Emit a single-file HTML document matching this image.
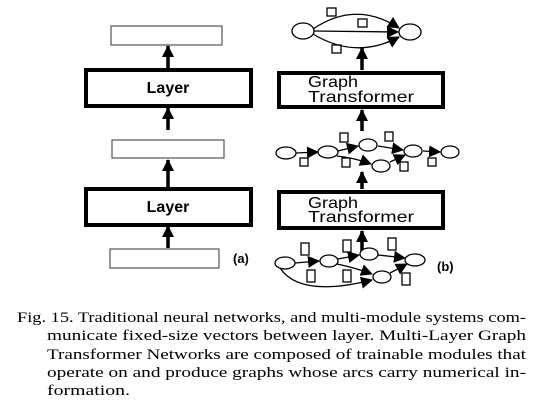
<!DOCTYPE html>
<html><head><meta charset="utf-8"><style>
html,body{margin:0;padding:0;background:#fff;}
svg{display:block;}
.s{font-family:"Liberation Sans",sans-serif;}
.c{font-family:"Liberation Serif",serif;font-size:15px;}
</style></head><body>
<svg width="538" height="414" viewBox="0 0 538 414" xmlns="http://www.w3.org/2000/svg">
<defs>
<marker id="b" markerWidth="12" markerHeight="12" refX="11" refY="6" orient="auto" markerUnits="userSpaceOnUse" viewBox="0 0 12 12"><path d="M0,0 L12,6 L0,12 z" fill="#000"/></marker>
</defs>
<g fill="none" stroke="#000">
<rect x="111" y="26" width="111" height="19" stroke="#555" stroke-width="1.2"/>
<rect x="86" y="70" width="165" height="36" stroke-width="4"/>
<rect x="112" y="140" width="112" height="18" stroke="#555" stroke-width="1.2"/>
<rect x="86" y="189" width="165" height="36" stroke-width="4"/>
<rect x="110" y="249" width="109" height="19" stroke="#555" stroke-width="1.2"/>
<g stroke-width="3.5" marker-end="url(#b)">
<line x1="168" y1="68" x2="168" y2="46"/>
<line x1="168" y1="130" x2="168" y2="108"/>
<line x1="168" y1="187" x2="168" y2="160"/>
<line x1="168" y1="248" x2="168" y2="226"/>
<line x1="362" y1="70" x2="362" y2="48"/>
<line x1="362" y1="131" x2="362" y2="110"/>
<line x1="362" y1="189" x2="362" y2="172"/>
<line x1="362" y1="252" x2="362" y2="231"/>
</g>
<rect x="279" y="73" width="164" height="34" stroke-width="4"/>
<rect x="279" y="192" width="164" height="36" stroke-width="4"/>
<g stroke-width="1.3">
<path d="M313,29 Q356,0 399,28" marker-end="url(#b)"/>
<path d="M314,31 L398,32" marker-end="url(#b)"/>
<path d="M313,34 Q356,60 399,37" marker-end="url(#b)"/>
<ellipse cx="303" cy="31" rx="11" ry="8" fill="#fff"/>
<ellipse cx="410" cy="32" rx="11" ry="8" fill="#fff"/>
<rect x="327" y="8" width="9" height="8"/>
<rect x="358" y="19" width="9" height="8"/>
<rect x="332" y="45" width="9" height="8"/>
</g>
<g stroke-width="1.3">
<path d="M296,153 L318,152" marker-end="url(#b)"/>
<path d="M338,151 L358,146" marker-end="url(#b)"/>
<path d="M337,156 Q355,158 371,164" marker-end="url(#b)"/>
<path d="M378,146 L403,150" marker-end="url(#b)"/>
<path d="M390,162 L405,155" marker-end="url(#b)"/>
<path d="M423,151 L440,152" marker-end="url(#b)"/>
<ellipse cx="286" cy="153" rx="10" ry="6" fill="#fff"/>
<ellipse cx="328" cy="152" rx="10" ry="6" fill="#fff"/>
<ellipse cx="368" cy="145" rx="9" ry="6" fill="#fff"/>
<ellipse cx="381" cy="166" rx="9" ry="6" fill="#fff"/>
<ellipse cx="413" cy="151" rx="9" ry="6" fill="#fff"/>
<ellipse cx="450" cy="152" rx="9" ry="6" fill="#fff"/>
<rect x="300" y="158" width="8" height="8"/>
<rect x="340" y="133" width="8" height="9"/>
<rect x="342" y="158" width="8" height="9"/>
<rect x="385" y="132" width="8" height="9"/>
<rect x="400" y="162" width="8" height="9"/>
<rect x="428" y="158" width="8" height="8"/>
</g>
<g stroke-width="1.3">
<path d="M295,263 L319,261" marker-end="url(#b)"/>
<path d="M338,259 L359,255" marker-end="url(#b)"/>
<path d="M337,264 Q356,268 372,274" marker-end="url(#b)"/>
<path d="M378,255 L405,258" marker-end="url(#b)"/>
<path d="M390,273 L407,264" marker-end="url(#b)"/>
<path d="M280,268 Q300,298 372,280" marker-end="url(#b)"/>
<ellipse cx="285" cy="263" rx="10" ry="6" fill="#fff"/>
<ellipse cx="329" cy="261" rx="9" ry="6" fill="#fff"/>
<ellipse cx="369" cy="254" rx="9" ry="6" fill="#fff"/>
<ellipse cx="382" cy="277" rx="9" ry="6" fill="#fff"/>
<ellipse cx="415" cy="260" rx="10" ry="6" fill="#fff"/>
<rect x="301" y="243" width="8" height="12"/>
<rect x="343" y="240" width="8" height="12"/>
<rect x="388" y="238" width="8" height="12"/>
<rect x="307" y="270" width="8" height="12"/>
<rect x="343" y="270" width="8" height="12"/>
<rect x="402" y="273" width="8" height="12"/>
</g>
</g>
<g class="s" fill="#000">
<text x="168" y="93" font-size="16" font-weight="bold" text-anchor="middle">Layer</text>
<text x="168" y="212" font-size="16" font-weight="bold" text-anchor="middle">Layer</text>
<text x="308" y="87" font-size="16" textLength="50" lengthAdjust="spacingAndGlyphs">Graph</text>
<text x="308" y="102" font-size="16" textLength="106" lengthAdjust="spacingAndGlyphs">Transformer</text>
<text x="308" y="208" font-size="16" textLength="50" lengthAdjust="spacingAndGlyphs">Graph</text>
<text x="308" y="222" font-size="16" textLength="106" lengthAdjust="spacingAndGlyphs">Transformer</text>
<text x="233" y="263" font-size="13" font-weight="bold">(a)</text>
<text x="437" y="271" font-size="13" font-weight="bold">(b)</text>
</g>
<g class="c" fill="#000">
<text x="17" y="322" textLength="509" lengthAdjust="spacingAndGlyphs">Fig. 15.  Traditional neural networks, and multi-module systems com-</text>
<text x="47" y="340" textLength="479" lengthAdjust="spacingAndGlyphs">municate fixed-size vectors between layer.  Multi-Layer Graph</text>
<text x="47" y="359" textLength="479" lengthAdjust="spacingAndGlyphs">Transformer Networks are composed of trainable modules that</text>
<text x="47" y="377" textLength="479" lengthAdjust="spacingAndGlyphs">operate on and produce graphs whose arcs carry numerical in-</text>
<text x="47" y="395" textLength="83" lengthAdjust="spacingAndGlyphs">formation.</text>
</g>
</svg>
</body></html>
